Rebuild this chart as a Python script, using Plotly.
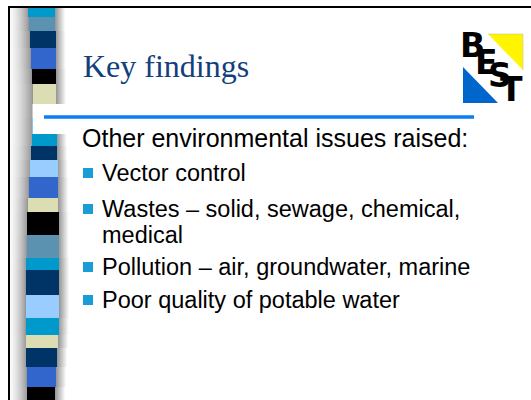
import plotly.graph_objects as go

W, H = 531, 400

# ---- decorative stripe: bands (top edge, colour, left and right edge) ----
band_tops = [7, 17, 31, 48, 69, 84, 118, 146, 160, 177, 198, 212, 235, 258,
             270, 295, 318, 335, 348, 367, 387]
band_colors = ["#0099CC", "#5B92B0", "#003366", "#3366CC", "#000000", "#DDDDB4",
               "#0099CC", "#003366", "#99CCFF", "#3366CC", "#DDDDB4", "#000000",
               "#5B92B0", "#0099CC", "#003366", "#99CCFF", "#0099CC", "#DDDDB4",
               "#003366", "#3366CC", "#000000"]
band_left = [28, 28.5, 29.5, 30.5, 31.5, 32.5, 32, 31, 30, 28.5, 27.5, 27, 26.5, 26,
             25.5, 25.5, 25.5, 26, 26, 26.5, 27]
band_right = [55, 55, 55.5, 55.5, 56, 56, 56.5, 57, 57.5, 58, 58, 58.5, 58.5, 59,
              59, 59, 58.5, 58, 57, 56, 55]
band_bottoms = band_tops[1:] + [H]
band_heights = [b - t for t, b in zip(band_tops, band_bottoms)]
band_centers = [(l + r) / 2 for l, r in zip(band_left, band_right)]
band_widths = [r - l for l, r in zip(band_left, band_right)]

# ---- slide text ----
title_text = "Key findings"
intro_text = "Other environmental issues raised:"
lines = ["Vector control",
         "Wastes \u2013 solid, sewage, chemical,",
         "medical",
         "Pollution \u2013 air, groundwater, marine",
         "Poor quality of potable water"]
line_has_bullet = [True, True, False, True, True]
title_base = 77
intro_base = 147
line_bases = [181, 217, 243, 275, 308]

# ---- logo ----
logo_letters = ["B", "E", "S", "T"]
logo_letter_x = [472.5, 486, 500, 511]
logo_letter_y = [45, 62.5, 75, 89]
yellow_x = [488, 523, 523]
yellow_y = [34, 34, 70]
blue_x = [463, 463, 498]
blue_y = [67, 103, 103]

fig = go.Figure()

# cylinder-like shading beside the stripe, following each band's edges
shade_cols = list(range(10, 72))
shade_z = []
for L, R in zip(band_left, band_right):
    row = []
    for c in shade_cols:
        xc = c + 0.5
        if xc < L:
            t = (xc - 10) / (L - 10)
            row.append(250 - 95 * t ** 1.4)
        elif xc > R:
            row.append(min(255, 148 + 10.5 * (xc - R)))
        else:
            row.append(150)
    shade_z.append(row)
fig.add_trace(go.Heatmap(
    z=shade_z, x=shade_cols + [shade_cols[-1] + 1], y=band_tops + [H],
    colorscale=[[0, "rgb(0,0,0)"], [1, "rgb(255,255,255)"]],
    zmin=0, zmax=255, showscale=False, hoverinfo="skip"))

fig.add_trace(go.Bar(
    x=band_centers, y=band_heights, base=band_tops, width=band_widths,
    marker=dict(color=band_colors, line=dict(width=0)), hoverinfo="skip"))

fig.add_trace(go.Scatter(x=yellow_x, y=yellow_y, fill="toself", mode="lines",
                         fillcolor="#FFF500", line=dict(width=0.6, color="#C8C8A0"),
                         hoverinfo="skip"))
fig.add_trace(go.Scatter(x=blue_x, y=blue_y, fill="toself", mode="lines",
                         fillcolor="#0066CC", line=dict(width=0),
                         hoverinfo="skip"))

# bullets
bx = [88] * sum(line_has_bullet)
by = [b - 8 for b, hb in zip(line_bases, line_has_bullet) if hb]
fig.add_trace(go.Scatter(x=bx, y=by, mode="markers",
                         marker=dict(symbol="square", size=10, color="#1A9CD6",
                                     line=dict(width=0)),
                         hoverinfo="skip"))

shapes = [
    dict(type="rect", x0=32.5, x1=W, y0=104, y1=134, fillcolor="white",
         line=dict(width=0), layer="above"),
    dict(type="line", x0=44, x1=474, y0=117, y1=117,
         line=dict(color="#0A7EF2", width=3.5), layer="above"),
    dict(type="line", x0=8, x1=W, y0=7, y1=7, line=dict(color="black", width=2),
         layer="above"),
    dict(type="line", x0=9, x1=9, y0=6, y1=H, line=dict(color="black", width=2),
         layer="above"),
]

sans = "Liberation Sans, Arial, sans-serif"
serif = "Liberation Serif, Times New Roman, serif"
body_size = 23.5
intro_size = 25
annotations = [
    dict(x=81, y=title_base - 0.3375 * 32, text=title_text, showarrow=False,
         xanchor="left", yanchor="middle",
         font=dict(family=serif, size=32, color="#12407A")),
    dict(x=80, y=intro_base - 0.3465 * intro_size, text=intro_text, showarrow=False,
         xanchor="left", yanchor="middle",
         font=dict(family=sans, size=intro_size, color="black")),
]
for t, b in zip(lines, line_bases):
    annotations.append(dict(x=100, y=b - 0.3465 * body_size, text=t, showarrow=False,
                            xanchor="left", yanchor="middle",
                            font=dict(family=sans, size=body_size, color="black")))
for L, lx, ly in zip(logo_letters, logo_letter_x, logo_letter_y):
    annotations.append(dict(x=lx, y=ly, text="<b>" + L + "</b>", showarrow=False,
                            xanchor="center", yanchor="middle", borderpad=0,
                            font=dict(family="DejaVu Sans", size=33, color="black")))

fig.update_layout(
    width=W, height=H, margin=dict(l=0, r=0, t=0, b=0),
    paper_bgcolor="white", plot_bgcolor="white", showlegend=False,
    xaxis=dict(range=[0, W], visible=False, fixedrange=True),
    yaxis=dict(range=[H, 0], visible=False, fixedrange=True),
    shapes=shapes, annotations=annotations, bargap=0,
)

fig.write_html("out.html", config={"displayModeBar": False},
               post_script="document.body.style.margin='0px';")
